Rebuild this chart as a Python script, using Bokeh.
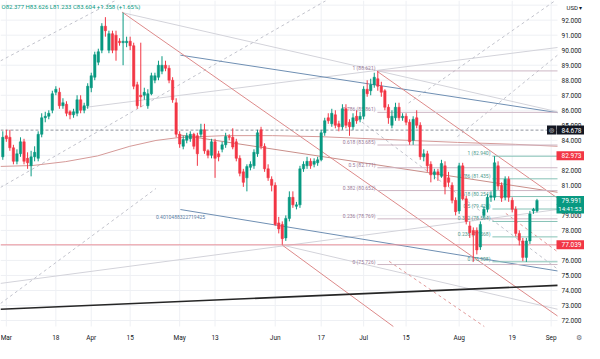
import numpy as np
import pandas as pd
from bokeh.plotting import figure
from bokeh.models import Range1d, ColumnDataSource
from bokeh.core.properties import value
from bokeh.embed import file_html
from bokeh.resources import INLINE

FONT = "Roboto"
UP, DOWN = "#089981", "#f23645"

# ---------------- data ----------------
closed_days = ["2024-03-29", "2024-03-31", "2024-04-14"]
all_days = pd.date_range("2024-02-29", "2024-09-06", freq="D")
session_days = [d.strftime("%Y-%m-%d") for d in all_days
                if d.weekday() != 5 and d.strftime("%Y-%m-%d") not in closed_days]

open_ = [82.9, 84.3, 84.2, 83.5, 82.6, 83.1, 83.9, 82.8, 82.3, 82.9,
         82.8, 84.4, 85.5, 85.6, 86.0, 87.2, 87.2, 86.3, 86.4, 85.9,
         85.7, 85.8, 86.7, 86.0, 86.3, 87.5, 88.2, 89.2, 90.0, 91.6,
         90.0, 91.1, 91.0, 90.6, 90.5, 90.5, 90.6, 90.3, 87.7, 87.0,
         87.0, 86.3, 87.1, 88.0, 88.2, 88.6, 89.0, 88.8, 88.0, 86.5,
         84.4, 83.6, 84.0, 84.1, 84.4, 84.3, 84.4, 84.7, 83.3, 83.0,
         83.9, 83.1, 83.4, 83.7, 84.25, 84.2, 83.9, 82.8, 81.9, 81.5,
         82.2, 82.3, 83.1, 84.7, 83.6, 82.1, 81.4, 81.0, 78.5, 78.4,
         77.5, 78.8, 80.2, 79.6, 79.7, 82.1, 82.3, 82.6, 82.4, 82.5,
         82.7, 84.5, 85.5, 85.1, 85.7, 85.1, 84.9, 86.1, 85.2, 84.9,
         85.6, 85.4, 85.6, 87.4, 87.3, 87.7, 88.1, 87.6, 87.3, 86.2,
         85.0, 85.5, 86.2, 85.5, 85.6, 85.2, 84.0, 85.5, 85.0, 82.9,
         83.1, 82.4, 81.7, 81.9, 81.6, 82.3, 81.5, 81.0, 80.0, 79.3,
         82.3, 80.1, 78.3, 78.0, 78.0, 76.9, 79.0, 79.4, 80.2, 80.2,
         82.3, 81.0, 80.2, 81.4, 80.0, 79.4, 77.8, 77.3, 76.2, 77.3,
         79.3, 79.3]
high_ = [84.6, 84.7, 84.7, 83.7, 83.4, 84.2, 84.1, 83.2, 83.3, 83.6,
         84.6, 85.8, 85.9, 86.0, 87.3, 87.6, 87.5, 86.8, 86.6, 86.0,
         86.1, 87.0, 87.0, 86.5, 87.8, 88.5, 89.9, 90.1, 91.8, 92.2,
         91.3, 91.3, 91.3, 90.8, 92.5, 90.9, 90.9, 90.5, 87.9, 90.5,
         87.5, 87.4, 88.5, 88.5, 89.3, 89.6, 89.3, 89.0, 88.2, 86.8,
         84.6, 84.3, 84.5, 84.6, 84.5, 84.5, 85.1, 85.1, 83.4, 84.1,
         84.1, 83.3, 83.9, 84.5, 84.4, 84.8, 84.1, 83.0, 82.1, 82.4,
         82.6, 83.4, 84.7, 84.9, 83.8, 82.4, 81.6, 81.2, 78.9, 78.6,
         79.0, 80.6, 80.6, 79.9, 82.3, 82.6, 82.9, 82.8, 82.8, 82.9,
         84.7, 85.5, 85.8, 86.1, 86.0, 85.3, 86.4, 86.4, 85.4, 85.8,
         86.0, 85.9, 87.6, 88.0, 88.1, 88.5, 88.62, 87.9, 87.4, 86.4,
         86.0, 86.5, 86.5, 85.8, 85.8, 85.4, 85.6, 86.0, 85.2, 83.4,
         83.3, 82.6, 82.1, 82.1, 82.7, 82.6, 81.9, 81.2, 80.2, 82.5,
         82.5, 80.3, 78.6, 78.2, 78.2, 78.6, 79.6, 80.4, 80.6, 82.94,
         82.6, 81.2, 81.6, 81.6, 80.2, 79.6, 78.0, 77.5, 77.5, 79.3,
         79.5, 80.1]
low_ = [82.7, 83.9, 83.3, 82.4, 82.4, 82.9, 82.4, 82.1, 81.6, 82.6,
        82.6, 84.2, 85.2, 85.4, 85.8, 87.0, 86.1, 86.1, 85.6, 85.4,
        85.5, 85.6, 85.8, 85.8, 86.1, 87.2, 88.0, 89.0, 89.8, 90.9,
        89.8, 89.8, 89.3, 90.3, 89.0, 90.2, 90.0, 87.4, 86.1, 86.2,
        86.7, 86.1, 87.0, 87.8, 88.0, 88.4, 88.6, 87.8, 86.5, 84.2,
        83.5, 83.4, 83.8, 83.9, 83.4, 82.3, 84.2, 83.1, 82.8, 82.8,
        81.5, 82.6, 83.2, 83.5, 84.0, 83.4, 82.6, 81.6, 80.9, 80.6,
        82.0, 82.1, 82.9, 83.4, 81.9, 81.3, 80.6, 78.3, 77.8, 77.05,
        77.3, 78.6, 79.5, 79.4, 79.5, 81.9, 82.1, 82.1, 82.2, 82.3,
        82.6, 84.3, 85.1, 84.9, 84.8, 84.6, 84.7, 84.8, 84.3, 84.7,
        85.1, 85.2, 85.4, 86.9, 87.0, 87.5, 87.3, 86.9, 86.0, 85.1,
        84.8, 85.3, 85.3, 85.3, 85.0, 83.7, 83.7, 84.8, 82.7, 82.6,
        81.9, 81.2, 81.4, 81.3, 81.5, 80.4, 80.9, 79.8, 79.0, 79.1,
        80.0, 78.4, 77.5, 75.91, 76.4, 76.7, 78.8, 79.2, 79.9, 80.0,
        80.7, 79.9, 80.0, 79.9, 79.2, 77.6, 77.0, 75.95, 75.9, 77.1,
        79.1, 79.2]
close_ = [84.2, 84.1, 83.5, 82.6, 83.1, 83.9, 82.6, 82.5, 82.9, 83.2,
          84.4, 85.5, 85.6, 85.8, 87.1, 87.4, 86.3, 86.5, 85.8, 85.7,
          85.9, 86.7, 86.0, 86.3, 87.6, 88.3, 89.7, 89.9, 91.6, 91.3,
          91.1, 90.0, 90.0, 90.5, 90.6, 90.6, 90.3, 87.6, 86.3, 86.9,
          87.2, 87.1, 88.3, 88.3, 89.0, 89.0, 88.8, 88.0, 86.7, 84.4,
          83.75, 84.05, 84.3, 84.4, 83.6, 83.1, 84.7, 83.3, 83.0, 83.9,
          82.8, 82.9, 83.7, 84.25, 84.2, 83.55, 82.8, 81.8, 81.2, 82.25,
          82.4, 83.2, 84.5, 83.6, 82.1, 81.5, 81.0, 78.4, 78.1, 77.45,
          78.8, 80.2, 79.7, 79.7, 82.1, 82.4, 82.6, 82.3, 82.6, 82.7,
          84.5, 85.3, 85.3, 85.8, 85.0, 84.9, 86.1, 85.0, 84.9, 85.5,
          85.3, 85.6, 87.4, 87.1, 87.7, 88.2, 87.6, 87.2, 86.2, 85.5,
          85.6, 86.2, 85.5, 85.6, 85.2, 83.9, 85.4, 85.0, 82.9, 83.1,
          82.3, 81.7, 81.9, 81.7, 82.45, 80.9, 81.2, 80.0, 79.25, 82.3,
          80.1, 78.6, 77.85, 77.7, 76.7, 78.4, 79.4, 80.2, 80.3, 82.5,
          80.95, 80.15, 81.4, 80.2, 79.4, 77.8, 77.35, 76.2, 77.3, 79.1,
          79.4, 79.99]

tick_dates = ["2024-03-01", "2024-03-18", "2024-04-01", "2024-04-15", "2024-05-01",
              "2024-05-13", "2024-06-02", "2024-06-17", "2024-07-01", "2024-07-15",
              "2024-08-01", "2024-08-19", "2024-09-01"]
tick_labels = ["Mar", "18", "Apr", "15", "May", "13", "Jun", "17", "Jul", "15", "Aug", "19", "Sep"]

price_grid = [72, 73, 74, 75, 76, 77, 78, 79, 80, 81, 82, 83, 84, 85, 86, 87, 88, 89, 90, 91, 92, 93]
price_shown = [72, 73, 74, 75, 76, 78, 79, 81, 82, 84, 85, 86, 87, 88, 89, 90, 91, 92]

# moving average
ma_x = [-0.65, 8.4, 17.8, 26.8, 35.9, 43.3, 49.6, 62.5, 76.3, 90.0, 109.2, 128.5, 145.0, 156.8]
ma_y = [82.26, 82.32, 82.58, 82.96, 83.60, 83.99, 84.18, 84.31, 84.31, 84.24, 84.05, 83.86, 83.73, 83.60]

# trend lines: (x0, y0, x1, y1) in bar index / price
black_line = [-0.65, 72.75, 156.8, 74.34]
blue_lines = [[50.2, 89.67, 156.8, 85.84], [50.2, 79.39, 156.8, 75.30]]
red_lines = [[33.7, 92.54, 156.8, 72.30], [105.9, 88.58, 156.8, 80.15], [79.0, 77.02, 110.4, 71.6]]
brown_lines = [[49.6, 84.37, 156.8, 80.54]]
gray_lines = [[-0.65, 74.47, 156.8, 79.39], [79.0, 77.02, 156.8, 72.75],
              [22.2, 86.16, 156.8, 90.18], [34.2, 92.48, 156.8, 85.90]]
gray_dashed = [[-0.65, 89.29, 31.8, 93.31], [-0.65, 80.86, 91.4, 93.31],
               [-0.65, 73.13, 43.3, 80.79], [100.2, 85.45, 156.8, 75.43],
               [114.7, 86.48, 156.2, 93.31], [128.5, 84.24, 156.8, 89.67]]
red_dashed = [[109.2, 75.94, 136.1, 71.6], [142.2, 79.13, 156.8, 76.58]]

fib1_levels = [1, 0.786, 0.618, 0.5, 0.382, 0.236, 0]
fib1_prices = [88.621, 85.861, 83.685, 82.171, 80.652, 78.769, 75.726]
fib1_start = 105.9
fib2_levels = [1, 0.786, 0.618, 0.5, 0.382, 0.236, 0]
fib2_prices = [82.940, 81.435, 80.254, 79.424, 78.594, 77.568, 75.908]
fib2_start = 138.4

channel_note = "0.4010488322719425"
channel_note_pos = [43.3, 78.88]

header = "O82.377 H83.626 L81.233 C83.604 +1.358 (+1.65%)"
dashed_level = 84.678
line_level = 77.039
box_prices = [84.678, 82.973, 79.991, 77.039]
box_texts = ["84.678", "82.973", "79.991", "77.039"]
box_colors = ["#131722", DOWN, UP, DOWN]
countdown = "14:41:53"

# ---------------- layout constants ----------------
W, H = 584, 343               # canvas
CHART_W, CHART_H = 557, 326   # price area inside the canvas
X0, X_END = -0.65, 156.8
Y_TOP, Y_BOT = 93.31, 71.6
PX = CHART_W / (X_END - X0)
PY = CHART_H / (Y_TOP - Y_BOT)
X_MAX = X0 + W / PX
Y_MIN = Y_TOP - H / PY

def sx(px):   # canvas pixel -> data x
    return X0 + px / PX

def sy(py):   # canvas pixel (from top) -> data y
    return Y_TOP - py / PY

p = figure(width=W, height=H, x_range=Range1d(X0, X_MAX), y_range=Range1d(Y_MIN, Y_TOP),
           x_axis_location=None, y_axis_location=None, toolbar_location=None,
           output_backend="svg", min_border_left=0, min_border_right=0,
           min_border_top=0, min_border_bottom=0)
p.outline_line_color = None
p.grid.visible = False
p.background_fill_color = "white"
p.border_fill_color = "white"

xs = list(range(len(open_)))
tick_pos = [session_days.index(d) for d in tick_dates]

def seg(lines, color, width=1.0, dash="solid", alpha=1.0):
    p.segment(x0=[l[0] for l in lines], y0=[l[1] for l in lines],
              x1=[l[2] for l in lines], y1=[l[3] for l in lines],
              line_color=color, line_width=width, line_dash=dash, line_alpha=alpha)

# grid
GRID = "#eef0f4"
seg([[X0, v, X_END, v] for v in price_grid], GRID)
seg([[t, Y_BOT, t, Y_TOP] for t in tick_pos], GRID)

# drawings
seg(gray_lines, "#d3d3da", 1.0)
seg(gray_dashed, "#c2c3cc", 1.0, "3 3")
seg(red_dashed, "#e29a9a", 1.0, "3 3")
p.line(ma_x, ma_y, line_color="#d59a98", line_width=1.0)
seg(brown_lines, "#c98f8a", 1.0)
seg(blue_lines, "#6f8fb3", 1.0)
seg(red_lines, "#dd8a8a", 1.0)
seg([black_line], "#262626", 1.6)

# fib 1
seg([[fib1_start, v, X_END, v] for v in fib1_prices], "#cdb6c4", 1.0)
p.text(x=[fib1_start] * len(fib1_prices), y=fib1_prices,
       text=[f"{l} ({v:.3f})" for l, v in zip(fib1_levels, fib1_prices)],
       text_align="right", text_baseline="bottom", x_offset=-2,
       text_font=value(FONT), text_font_size="5px", text_color="#9a7a98")
# fib 2
seg([[fib2_start, v, X_END, v] for v in fib2_prices], "#86c2b6", 1.0)
p.text(x=[fib2_start] * len(fib2_prices), y=fib2_prices,
       text=[f"{l} ({v:.3f})" for l, v in zip(fib2_levels, fib2_prices)],
       text_align="right", text_baseline="bottom", x_offset=-2,
       text_font=value(FONT), text_font_size="5px", text_color="#4f9a8e")

p.text(x=[channel_note_pos[0]], y=[channel_note_pos[1]], text=[channel_note],
       text_align="left", text_baseline="middle",
       text_font=value(FONT), text_font_size="5px", text_color="#5b7da3")

seg([[X0, dashed_level, X_END, dashed_level]], "#8f949e", 1.0, "3 2")
seg([[X0, line_level, X_END, line_level]], "#e8909a", 1.0)

# candles
colors = [UP if c >= o else DOWN for o, c in zip(open_, close_)]
src = ColumnDataSource(dict(x=xs, h=high_, l=low_,
                            top=[max(o, c) for o, c in zip(open_, close_)],
                            bottom=[min(o, c) for o, c in zip(open_, close_)],
                            color=colors))
p.segment(x0="x", y0="l", x1="x", y1="h", line_color="color", line_width=1, source=src)
p.vbar(x="x", width=0.68, top="top", bottom="bottom", fill_color="color",
       line_color="color", line_width=0.5, source=src)

# header
p.text(x=[sx(1)], y=[sy(2.5)], text=[header], text_baseline="top", text_align="left",
       text_font=value(FONT), text_font_size="6px", text_color=UP)

# date axis labels
p.text(x=tick_pos, y=[sy(337)] * len(tick_pos), text=tick_labels,
       text_align="center", text_baseline="middle",
       text_font=value(FONT), text_font_size="6.5px", text_color="#131722")
p.text(x=[sx(578)], y=[sy(337)], text=["⚙"], text_align="center", text_baseline="middle",
       text_font_size="7px", text_color="#6a6d78")

# price axis labels
p.text(x=[sx(581)] * len(price_shown), y=price_shown, text=[f"{v:.3f}" for v in price_shown],
       text_align="right", text_baseline="middle",
       text_font=value(FONT), text_font_size="6.5px", text_color="#131722")
p.text(x=[sx(566)], y=[sy(3)], text=["USD ▾"], text_align="left", text_baseline="top",
       text_font=value(FONT), text_font_size="6px", text_color="#131722")

# price boxes
BOX_X = sx(570)
p.rect(x=[BOX_X] * len(box_prices), y=box_prices, width=28, height=9,
       width_units="screen", height_units="screen", fill_color=box_colors, line_color=None)
p.rect(x=[BOX_X], y=[box_prices[2] - 8.5 / PY], width=28, height=9,
       width_units="screen", height_units="screen", fill_color=UP, line_color=None)
p.rect(x=[sx(551)], y=[box_prices[0]], width=9, height=9,
       width_units="screen", height_units="screen", fill_color="#131722", line_color=None)
p.text(x=[sx(551)], y=[box_prices[0]], text=["◎"], text_align="center", text_baseline="middle",
       text_font_size="6px", text_color="white")
p.text(x=[sx(581)] * len(box_prices), y=box_prices, text=box_texts,
       text_align="right", text_baseline="middle",
       text_font=value(FONT), text_font_size="6.5px", text_color="white")
p.text(x=[sx(581)], y=[box_prices[2] - 8.5 / PY], text=[countdown],
       text_align="right", text_baseline="middle",
       text_font=value(FONT), text_font_size="6px", text_color="white")

open("out.html", "w").write(file_html(p, INLINE))
